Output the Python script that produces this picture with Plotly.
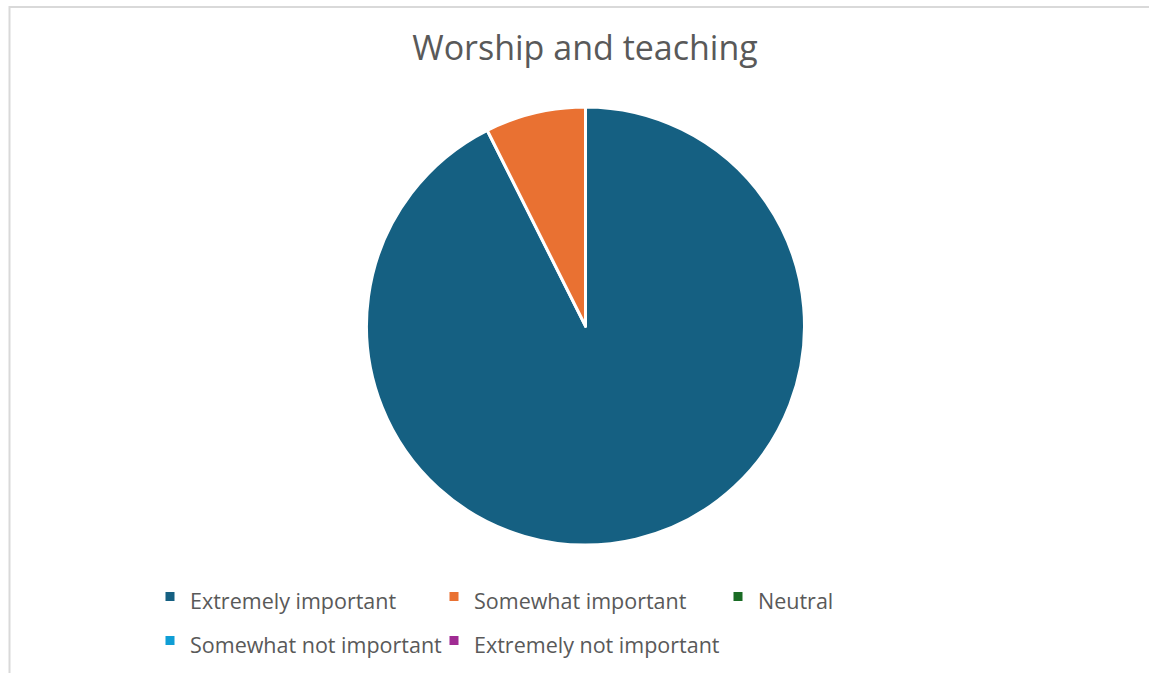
import plotly.graph_objects as go

categories = ["Extremely important", "Somewhat important", "Neutral",
              "Somewhat not important", "Extremely not important"]
values = [25, 2, 0, 0, 0]
colors = ["#156082", "#E97132", "#196B24", "#0F9ED5", "#A02B93"]
title_text = "Worship and teaching"

W, H = 1149, 673
R = 40                      # right margin (keeps the legend at 3 entries per row)
PW = W - R                  # plot-area width
LEGEND_TEXT_PX = 21.5
legend_labels = [f'<span style="font-size:{LEGEND_TEXT_PX}px">{c}</span>' for c in categories]

fig = go.Figure()
fig.add_trace(go.Pie(
    labels=legend_labels,
    values=values,
    sort=False,
    direction="clockwise",
    rotation=0,
    textinfo="none",
    hovertext=categories,
    hoverinfo="text+value+percent",
    marker=dict(colors=colors, line=dict(color="white", width=3)),
    domain=dict(x=[366.5 / PW, 804.5 / PW], y=[(H - 545) / H, (H - 107) / H]),
    showlegend=True,
))

fig.update_layout(
    width=W, height=H,
    margin=dict(l=0, r=R, t=0, b=0, autoexpand=False),
    paper_bgcolor="white",
    plot_bgcolor="white",
    font=dict(family="Open Sans", color="#595959"),
    title=dict(text=title_text, x=585 / W, xanchor="center",
               y=1 - 48 / H, yanchor="middle",
               font=dict(size=34, color="#595959", family="Open Sans")),
    legend=dict(orientation="h", x=150 / PW, xanchor="left",
                y=1 - 569.5 / H, yanchor="top",
                entrywidth=239, entrywidthmode="pixels",
                font=dict(size=31.5, color="#595959", family="Open Sans"),
                bgcolor="rgba(0,0,0,0)"),
    shapes=[dict(type="rect", xref="paper", yref="paper",
                 x0=9.5 / PW, x1=(W + 20) / PW, y0=-0.02, y1=1 - 7 / H,
                 line=dict(color="#D9D9D9", width=2), layer="above")],
)

fig.write_html("out.html", config={"displayModeBar": False},
               post_script="document.body.style.margin='0';")
